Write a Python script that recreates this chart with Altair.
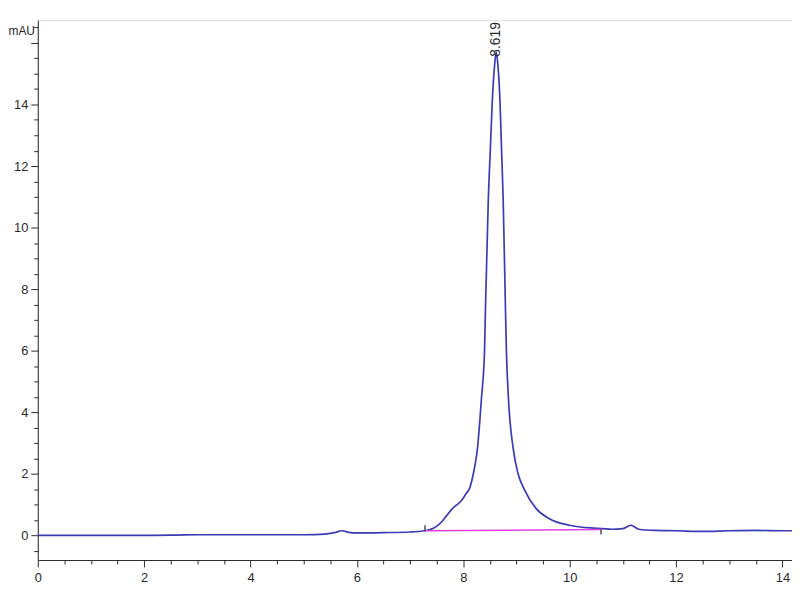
import altair as alt
import pandas as pd

# Chromatogram trace (retention time in min, absorbance in mAU)
times = [0.0, 0.5, 1.0, 2.0, 2.6, 3.0, 3.5, 4.0, 4.5, 5.0, 5.4, 5.6, 5.72, 5.85, 6.0,
         6.5, 7.0, 7.28, 7.44, 7.6, 7.69, 7.8, 7.87, 7.97, 8.05, 8.116, 8.2, 8.265,
         8.34, 8.40, 8.42, 8.47, 8.51, 8.545, 8.59, 8.619, 8.65, 8.69, 8.72, 8.75,
         8.79, 8.81, 8.85, 8.94, 9.03, 9.14, 9.37, 9.61, 9.99, 10.49, 10.8, 11.0,
         11.15, 11.3, 11.6, 12.0, 12.5, 13.0, 13.5, 14.0, 14.18]
signal = [0.0, 0.0, 0.0, 0.0, 0.01, 0.02, 0.02, 0.02, 0.02, 0.02, 0.04, 0.10, 0.15, 0.10, 0.08,
          0.09, 0.11, 0.15, 0.23, 0.45, 0.65, 0.88, 0.98, 1.14, 1.35, 1.52, 2.1, 2.8,
          4.42, 6.03, 7.6, 10.9, 12.6, 14.1, 15.3, 15.7, 15.3, 14.1, 12.5, 10.9,
          7.6, 6.03, 4.42, 2.8, 2.0, 1.52, 0.87, 0.55, 0.33, 0.23, 0.2, 0.22,
          0.33, 0.2, 0.16, 0.15, 0.13, 0.15, 0.16, 0.15, 0.15]

# Integration baseline
baseline_x = [7.28, 10.59]
baseline_y = [0.15, 0.19]

# Integration start/end markers
marker_x = [7.28, 10.59]
marker_y1 = [0.15, 0.19]
marker_y2 = [0.33, 0.03]

# Peak annotation
peak_rt = [8.619]
peak_label_y = [15.55]
peak_label = ["8.619"]

# Axis ticks
x_ticks = [0, 0.5, 1, 1.5, 2, 2.5, 3, 3.5, 4, 4.5, 5, 5.5, 6, 6.5, 7, 7.5, 8, 8.5, 9,
           9.5, 10, 10.5, 11, 11.5, 12, 12.5, 13, 13.5, 14]
y_ticks = [-0.5, 0, 0.5, 1, 1.5, 2, 2.5, 3, 3.5, 4, 4.5, 5, 5.5, 6, 6.5, 7, 7.5, 8, 8.5,
           9, 9.5, 10, 10.5, 11, 11.5, 12, 12.5, 13, 13.5, 14, 14.5, 15, 15.5, 16, 16.5]

trace = pd.DataFrame({"t": times, "v": signal})
base = pd.DataFrame({"t": baseline_x, "v": baseline_y})
marks = pd.DataFrame({"t": marker_x, "v": marker_y1, "v2": marker_y2})
peak = pd.DataFrame({"t": peak_rt, "v": peak_label_y, "lab": peak_label})

FONT = "Liberation Sans"
AX = "#2a2a2a"

xscale = alt.Scale(domain=[0, 14.18], nice=False, zero=False)
yscale = alt.Scale(domain=[-0.8, 16.74], nice=False, zero=False)

xaxis = alt.Axis(
    values=x_ticks,
    labelExpr="datum.value % 2 === 0 ? datum.label : ''",
    tickSize={"condition": {"test": "datum.value % 2 === 0", "value": 7}, "value": 4},
    title=None, grid=False, labelOverlap=False, labelFlush=False,
    domainColor=AX, tickColor=AX, labelColor=AX, labelFont=FONT, labelFontSize=13,
    labelPadding=5, format="~g",
)
yaxis = alt.Axis(
    values=y_ticks,
    labelExpr="datum.value % 2 === 0 ? (datum.value < 15 ? datum.label : '') : ''",
    tickSize={"condition": {"test": "datum.value % 2 === 0", "value": 7}, "value": 4},
    title="mAU", titleAngle=0, titleX=-30, titleY=10, titleAlign="left",
    titleBaseline="middle", titleFont=FONT, titleFontSize=12, titleFontWeight="normal",
    titleColor=AX, grid=False, labelOverlap=False, labelFlush=False,
    domainColor=AX, tickColor=AX, labelColor=AX, labelFont=FONT, labelFontSize=13,
    labelPadding=3, format="~g",
)

X = alt.X("t:Q", scale=xscale, axis=xaxis)
Y = alt.Y("v:Q", scale=yscale, axis=yaxis)

line = alt.Chart(trace).mark_line(color="#3b3bb5", strokeWidth=1.7, interpolate="monotone").encode(
    x=X, y=Y,
)

bl = alt.Chart(base).mark_line(color="#e040e0", strokeWidth=1.6).encode(x=X, y=Y)

mk = alt.Chart(marks).mark_rule(color="#222222", strokeWidth=1.2).encode(
    x=X, y=Y, y2="v2:Q",
)

lab = alt.Chart(peak).mark_text(angle=270, align="left", baseline="middle",
                                fontSize=14, font=FONT, color=AX).encode(
    x=X, y=Y, text="lab:N",
)

chart = alt.layer(line, bl, mk, lab).properties(
    width=760, height=544,
    autosize=alt.AutoSizeParams(type="none"),
    padding={"left": 30, "top": 10, "right": 0, "bottom": 30},
).configure_view(strokeWidth=0).configure(background="white")

chart.save("out.html", embed_options={"renderer": "svg", "actions": False})
